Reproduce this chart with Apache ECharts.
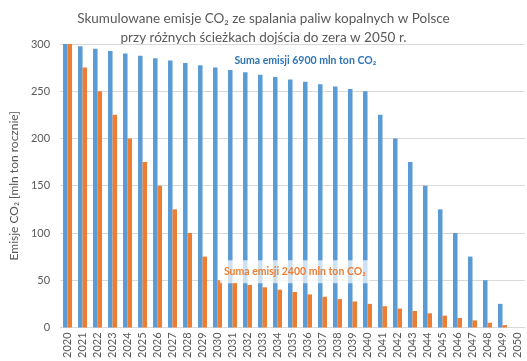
<!DOCTYPE html>
<html>
<head>
<meta charset="utf-8">
<script src="https://cdn.jsdelivr.net/npm/echarts@6/dist/echarts.min.js"></script>
<style>
  html, body { margin: 0; padding: 0; background: #fff; }
  #chart { width: 527px; height: 361px; }
</style>
</head>
<body>
<div id="chart"></div>
<script>
  // lata 2020-2050
  var years = ['2020', '2021', '2022', '2023', '2024', '2025', '2026', '2027', '2028', '2029',
    '2030', '2031', '2032', '2033', '2034', '2035', '2036', '2037', '2038', '2039',
    '2040', '2041', '2042', '2043', '2044', '2045', '2046', '2047', '2048', '2049', '2050'];
  // sciezka 6900 mln ton
  var slowPath = [300, 297.5, 295, 292.5, 290, 287.5, 285, 282.5, 280, 277.5,
    275, 272.5, 270, 267.5, 265, 262.5, 260, 257.5, 255, 252.5,
    250, 225, 200, 175, 150, 125, 100, 75, 50, 25, 0];
  // sciezka 2400 mln ton
  var fastPath = [300, 275, 250, 225, 200, 175, 150, 125, 100, 75,
    50, 47.5, 45, 42.5, 40, 37.5, 35, 32.5, 30, 27.5,
    25, 22.5, 20, 17.5, 15, 12.5, 10, 7.5, 5, 2.5, 0];

  var font = 'Lato, "Open Sans", sans-serif';
  var chart = echarts.init(document.getElementById('chart'));
  var option = {
    animation: false,
    textStyle: { fontFamily: font },
    title: {
      text: 'Skumulowane emisje CO₂ ze spalania paliw kopalnych w Polsce\nprzy różnych ścieżkach dojścia do zera w 2050 r.',
      left: 'center',
      top: 4,
      textStyle: { fontSize: 13.5, fontWeight: 'normal', color: '#595959', lineHeight: 19, fontFamily: font }
    },
    grid: { left: 52, right: 2, top: 44, bottom: 29 },
    xAxis: {
      type: 'category',
      data: years,
      axisLine: { lineStyle: { color: '#D9D9D9' } },
      axisTick: { show: false },
      axisLabel: { rotate: 90, fontSize: 11, color: '#595959', margin: 5, interval: 0 }
    },
    yAxis: {
      type: 'value',
      min: 0,
      max: 300,
      interval: 50,
      name: 'Emisje CO₂ [mln ton rocznie]',
      nameLocation: 'middle',
      nameGap: 37,
      nameTextStyle: { fontSize: 12, color: '#595959' },
      axisLabel: { fontSize: 11, color: '#595959', margin: 10 },
      splitLine: { lineStyle: { color: '#D9D9D9' } }
    },
    series: [
      {
        name: 'slow',
        type: 'bar',
        data: slowPath,
        barGap: '0%',
        barCategoryGap: '40%',
        itemStyle: { color: '#5B9BD5' },
        markPoint: {
          symbol: 'rect',
          symbolSize: 1,
          itemStyle: { color: 'rgba(0,0,0,0)' },
          data: [{
            coord: ['2036', 282],
            label: {
              show: true,
              position: 'inside',
              formatter: 'Suma emisji 6900 mln ton CO₂',
              color: '#2E75B6',
              fontWeight: 'bold',
              fontSize: 10.5
            }
          }]
        }
      },
      {
        name: 'fast',
        type: 'bar',
        data: fastPath,
        itemStyle: { color: '#ED7D31' },
        markPoint: {
          symbol: 'rect',
          symbolSize: 1,
          itemStyle: { color: 'rgba(0,0,0,0)' },
          data: [{
            coord: ['2035', 59],
            label: {
              show: true,
              position: 'inside',
              formatter: 'Suma emisji 2400 mln ton CO₂',
              color: '#ED7D31',
              fontWeight: 'bold',
              fontSize: 10.5,
              backgroundColor: 'rgba(255,255,255,0.7)',
              padding: [6, 4]
            }
          }]
        }
      }
    ]
  };
  chart.setOption(option);
</script>
</body>
</html>
